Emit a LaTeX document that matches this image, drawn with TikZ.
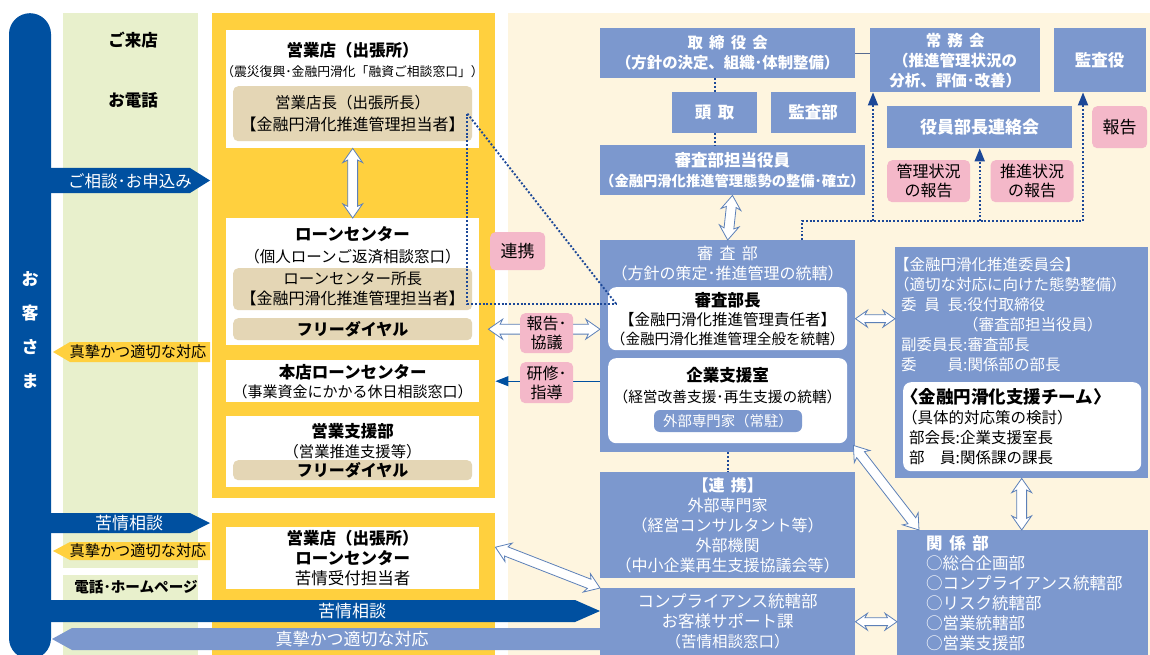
\documentclass[tikz,border=0pt]{standalone}
\usepackage{fontspec}
\setmainfont{Noto Sans CJK JP}
\usetikzlibrary{arrows.meta,positioning,calc,shapes.arrows}
\definecolor{kblue}{RGB}{0,80,160}
\definecolor{boxblue}{RGB}{124,152,206}
\definecolor{cream}{RGB}{254,245,223}
\definecolor{lgreen}{RGB}{232,240,204}
\definecolor{kyellow}{RGB}{255,208,62}
\definecolor{ktan}{RGB}{228,214,181}
\definecolor{kpink}{RGB}{244,184,201}
\definecolor{aline}{RGB}{92,128,184}
\definecolor{dotblue}{RGB}{28,72,152}
\newcommand{\fsz}[2][20]{\fontsize{#2}{#1}\selectfont\lineskiplimit=-\maxdimen}
\newcommand{\gap}{\hspace{.4em}}
\tikzset{%
    >={Triangle[width=10pt,length=13pt]},
    wbox/.style={fill=white,anchor=north west,inner sep=0pt,minimum width=253pt},
    bbox/.style={fill=boxblue,text=white,anchor=north west,inner sep=0pt,align=center,font={\fsz{16}}},
    tbox/.style={fill=ktan,rounded corners=5pt,anchor=north west,inner sep=0pt,minimum width=239pt,align=center,font={\fsz{15.5}}},
    pbox/.style={fill=kpink,rounded corners=5pt,anchor=north west,inner sep=0pt,align=center,font={\fsz[19]{16}}},
    rbox/.style={fill=white,rounded corners=8pt,anchor=north west,inner sep=0pt,minimum width=239pt},
    ktxt/.style={inner sep=0pt,align=center,font={\fsz{15.5}}},
    wtxt/.style={ktxt,text=white},
    dotl/.style={draw=dotblue,line width=1.9pt,dash pattern=on 1.9pt off 1.9pt},
    fat/.style={double arrow,draw=aline,fill=white,line width=.8pt,inner sep=4.5pt,
        double arrow head extend=5pt,double arrow tip angle=70,double arrow head indent=2.5pt},
    smallfat/.style={inner sep=3.5pt,double arrow head extend=4.5pt}
}
\newcommand{\fatarrow}[3][]{%
    \path let \p1=($(#3)-(#2)$), \n1={atan2(\y1,\x1)}, \n2={veclen(\x1,\y1)} in
        node[fat,#1,minimum height=\n2,rotate=\n1] at ($(#2)!.5!(#3)$) {};}

\begin{document}
\begin{tikzpicture}[x=1pt,y=-1pt]
\useasboundingbox (0,0) rectangle (1150,655);
\fill[white] (0,0) rectangle (1150,655);
%%%%% backgrounds
\fill[cream] (508,13) rectangle (1150,655);
\fill[lgreen] (63,13) rectangle (198,568);
\fill[lgreen] (63,575) rectangle (198,655);
\fill[kyellow] (212,13) rectangle (495,498);
\fill[kyellow] (212,513) rectangle (495,655);
%%%%% customer side
\node[fill=kblue,rounded corners=21pt,minimum width=42pt,minimum height=646pt,anchor=north,inner sep=0pt] (kyaku) at (30,13) {};
\node[wtxt,font={\bfseries\fsz[34]{17}}] (kyakutxt) at (30,330) {お\\客\\さ\\ま};
\node[ktxt,font={\bfseries\fsz{16.5}}] (raiten) at (133,40) {ご来店};
\node[ktxt,font={\bfseries\fsz{16.5}}] (denwa) at (133,100) {お電話};
\node[ktxt,font={\bfseries\fsz{14.6}}] (hp) at (136,587) {電話･ホームページ};
\fill[kblue] (50,168) -- (190,168) -- (210,180.5) -- (190,193) -- (50,193) -- cycle;
\node[wtxt,font={\fsz{16.5}}] (moushi) at (130,181) {ご相談･お申込み};
\fill[kyellow] (210,342) -- (70,342) -- (53,352) -- (70,362) -- (210,362) -- cycle;
\node[ktxt,font={\fsz{15.2}}] (taiou1) at (138,352) {真摯かつ適切な対応};
\fill[kblue] (50,513) -- (190,513) -- (210,523) -- (190,533) -- (50,533) -- cycle;
\node[wtxt,font={\fsz{17}}] (kujo1) at (129,523) {苦情相談};
\fill[kyellow] (210,542) -- (70,542) -- (53,551) -- (70,560) -- (210,560) -- cycle;
\node[ktxt,font={\fsz{15.2}}] (taiou2) at (138,551) {真摯かつ適切な対応};
\fill[kblue] (50,600) -- (575,600) -- (600,611) -- (575,622) -- (50,622) -- cycle;
\node[wtxt,font={\fsz{17}}] (kujo2) at (352,611) {苦情相談};
\fill[boxblue] (600,628) -- (72,628) -- (52,639) -- (72,650) -- (600,650) -- cycle;
\node[wtxt,font={\fsz{17}}] (taiou3) at (352,639) {真摯かつ適切な対応};
%%%%% branch column
\node[wbox,minimum height=118pt] (boxA) at (226,30) {};
\node[ktxt] (boxAtxt) at (352.5,60) {{\bfseries\fsz{16.5}営業店（出張所）}\\{\fsz{12.8}（震災復興･金融円滑化「融資ご相談窓口」）}};
\node[tbox,minimum height=55pt,font={\fsz[22]{15.5}}] (echo) at (233,86) {営業店長（出張所長）\\{\fsz{16}【金融円滑化推進管理担当者】}};
\node[wbox,minimum height=127pt] (boxB) at (226,218) {};
\node[ktxt,font={\fsz[22]{15.5}}] (boxBtxt) at (352.5,245) {{\bfseries\fsz{16.5}ローンセンター}\\（個人ローンご返済相談窓口）};
\node[tbox,minimum height=42pt] (lcho) at (233,268) {ローンセンター所長\\{\fsz{16}【金融円滑化推進管理担当者】}};
\node[tbox,minimum height=22pt,font={\bfseries\fsz{16}}] (fdial) at (233,318) {フリーダイヤル};
\node[wbox,minimum height=42pt,align=center,font={\fsz[19]{15}}] (boxC) at (226,360) {{\bfseries\fsz[19]{16.5}本店ローンセンター}\\（事業資金にかかる休日相談窓口）};
\node[wbox,minimum height=71pt] (boxD) at (226,416) {};
\node[ktxt,font={\fsz{15.3}}] (boxDtxt) at (352.5,441) {{\bfseries\fsz{16.5}営業支援部}\\（営業推進支援等）};
\node[tbox,minimum height=20pt,font={\bfseries\fsz{16}}] (fdial2) at (233,460) {フリーダイヤル};
\node[wbox,minimum height=62pt,align=center,font={\fsz{16.5}}] (boxE) at (226,527) {{\bfseries 営業店（出張所）}\\{\bfseries ローンセンター}\\苦情受付担当者};
%%%%% head office
\node[bbox,minimum width=255pt,minimum height=50pt,font={\bfseries\fsz{15.4}}] (tori) at (600,28) {取\gap 締\gap 役\gap 会\\（方針の決定、組織･体制整備）};
\node[bbox,minimum width=170pt,minimum height=64pt,font={\bfseries\fsz{15.5}}] (jomu) at (870,28) {常\gap 務\gap 会\\（推進管理状況の\\分析、評価･改善）};
\node[bbox,minimum width=92pt,minimum height=64pt,font={\bfseries\fsz{16.5}},right=13pt of jomu] (kansayaku) {監査役};
\node[bbox,minimum width=85pt,minimum height=41pt,font={\bfseries\fsz{16.5}}] (todori) at (672,92) {頭\gap 取};
\node[bbox,minimum width=85pt,minimum height=41pt,font={\bfseries\fsz{16.5}},right=13pt of todori] (kansabu) {監査部};
\node[bbox,minimum width=255pt,minimum height=50pt,font={\bfseries\fsz{16.5}}] (tanto) at (600,145) {審査部担当役員\\{\fsz{14.3}（金融円滑化推進管理態勢の整備･確立）}};
\node[bbox,minimum width=185pt,minimum height=42pt,font={\bfseries\fsz{17}}] (renraku) at (887,106) {役員部長連絡会};
\node[pbox,minimum width=55pt,minimum height=42pt,font={\fsz{17}}] (houkoku) at (1092,106) {報告};
\node[pbox,minimum width=83pt,minimum height=42pt] (kanri) at (887,160) {管理状況\\の報告};
\node[pbox,minimum width=83pt,minimum height=42pt,right=20pt of kanri] (suishin) {推進状況\\の報告};
\node[bbox,minimum width=255pt,minimum height=212pt] (shinsa) at (600,240) {};
\node[wtxt,font={\fsz{16}}] (shinsatxt) at (727.5,264) {審\gap 査\gap 部\\（方針の策定･推進管理の統轄）};
\node[rbox,minimum height=63pt,align=center,font={\fsz[19]{15.5}}] (shinchou) at (608,287) {{\bfseries\fsz[19]{16.5}審査部長}\\【金融円滑化推進管理責任者】\\{\fsz[19]{14.6}（金融円滑化推進管理全般を統轄）}};
\node[rbox,minimum height=85pt] (kigyo) at (608,358) {};
\node[ktxt,font={\fsz[21]{14.7}}] (kigyotxt) at (727.5,386) {{\bfseries\fsz{16.5}企業支援室}\\（経営改善支援･再生支援の統轄）};
\node[fill=boxblue,text=white,rounded corners=6pt,minimum width=148pt,minimum height=22pt,inner sep=0pt,font={\fsz{14.4}}] (gaibu) at (728,421) {外部専門家（常駐）};
\node[bbox,minimum width=253pt,minimum height=231pt] (iinkai) at (895,247) {};
\node[wtxt,align=left,anchor=west] (iinkaitxt) at (901,315) {\hspace*{-.45em}【金融円滑化推進委員会】\\\hspace*{-.45em}（適切な対応に向けた態勢整備）\\\makebox[4em][s]{委\hfill 員\hfill 長}:役付取締役\\\hspace*{4em}（審査部担当役員）\\副委員長:審査部長\\\makebox[4em][s]{委\hfill 員}:関係部の部長};
\node[rbox,minimum width=238pt,minimum height=89pt] (team) at (903,382) {};
\node[ktxt,align=left,anchor=west] (teamtxt) at (909,427) {{\bfseries\fsz{17.5}\hspace*{-.45em}〈金融円滑化支援チーム〉}\\\hspace*{-.45em}（具体的対応策の検討）\\部会長:企業支援室長\\\makebox[3em][s]{部\hfill 員}:関係課の課長};
\node[bbox,minimum width=255pt,minimum height=106pt] (renkei) at (600,472) {{\bfseries【連\gap 携】}\\外部専門家\\（経営コンサルタント等）\\外部機関\\（中小企業再生支援協議会等）};
\node[bbox,minimum width=255pt,minimum height=67pt,font={\fsz{16.5}}] (compl) at (600,588) {コンプライアンス統轄部\\お客様サポート課\\{\fsz{15.5}（苦情相談窓口）}};
\node[bbox,minimum width=251pt,minimum height=126pt] (kankei) at (897,530) {};
\node[wtxt,align=left,anchor=west,font={\fsz{16.5}}] (kankeitxt) at (926,593) {{\bfseries 関\gap 係\gap 部}\\○総合企画部\\○コンプライアンス統轄部\\○リスク統轄部\\○営業統轄部\\○営業支援部};
%%%%% connectors
\draw[boxblue!70!black,line width=1pt] (tori.east) -- (tori.east -| jomu.west);
\draw[dotl] (todori.north |- tori.south) -- (todori.north);
\draw[dotl] (todori.south) -- (todori.south |- tanto.north);
\draw[dotl] (shinsa.south) -- (renkei.north);
\coordinate (dotA) at (802,221);
\coordinate (dotB) at (1083,221);
\coordinate (jomuin) at ([xshift=3pt]jomu.south west);
\draw[dotl] (shinsa.north -| dotA) -- (dotA) -- (dotB);
\draw[dotl,->] (dotB) -- (dotB |- kansayaku.south);
\draw[dotl,->] (jomuin |- dotA) -- (jomuin);
\draw[dotl,->] (renraku.south |- dotA) -- (renraku.south);
\coordinate (dstart) at ([xshift=-5pt]echo.east);
\coordinate (dend) at ([shift={(8pt,15pt)}]shinchou.west);
\draw[dotl] (dstart) -- (dstart |- dend) -- (dend);
\draw[dotl] (dstart) -- (dend);
\fatarrow{boxA.south}{boxB.north}
\fatarrow{tanto.south}{shinsa.north}
\coordinate (hkL) at ([xshift=16pt]fdial.east);
\coordinate (hkR) at (fdial.east -| shinsa.west);
\fatarrow{hkL}{hkR}
\coordinate (ksL) at ([xshift=16pt]boxC.east);
\draw[kblue,line width=1pt,->] (boxC.east -| shinsa.west) -- (ksL);
\coordinate (siL) at (shinchou.east -| shinsa.east);
\coordinate (siR) at (shinchou.east -| iinkai.west);
\fatarrow[smallfat]{siL}{siR}
\coordinate (dgA) at ([shift={(-2pt,7pt)}]shinsa.south east);
\coordinate (dgB) at ([xshift=22pt]kankei.north west);
\fatarrow{dgA}{dgB}
\coordinate (kkN) at (iinkai.south |- kankei.north);
\fatarrow{iinkai.south}{kkN}
\coordinate (kuL) at ([shift={(16pt,11pt)}]boxE.east);
\fatarrow{kuL}{compl.north west}
\coordinate (ckR) at (compl.east -| kankei.west);
\fatarrow[smallfat]{compl.east}{ckR}
%%%%% labels on connectors
\node[pbox,minimum width=55pt,minimum height=38pt,font={\fsz{17}}] (renkeip) at (490,232) {連携};
\node[pbox,minimum width=53pt,minimum height=40pt] (houkyo) at (520,313) {報告･\\協議};
\node[pbox,minimum width=53pt,minimum height=41pt] (kenshu) at (520,362) {研修･\\指導};
\end{tikzpicture}
\end{document}
